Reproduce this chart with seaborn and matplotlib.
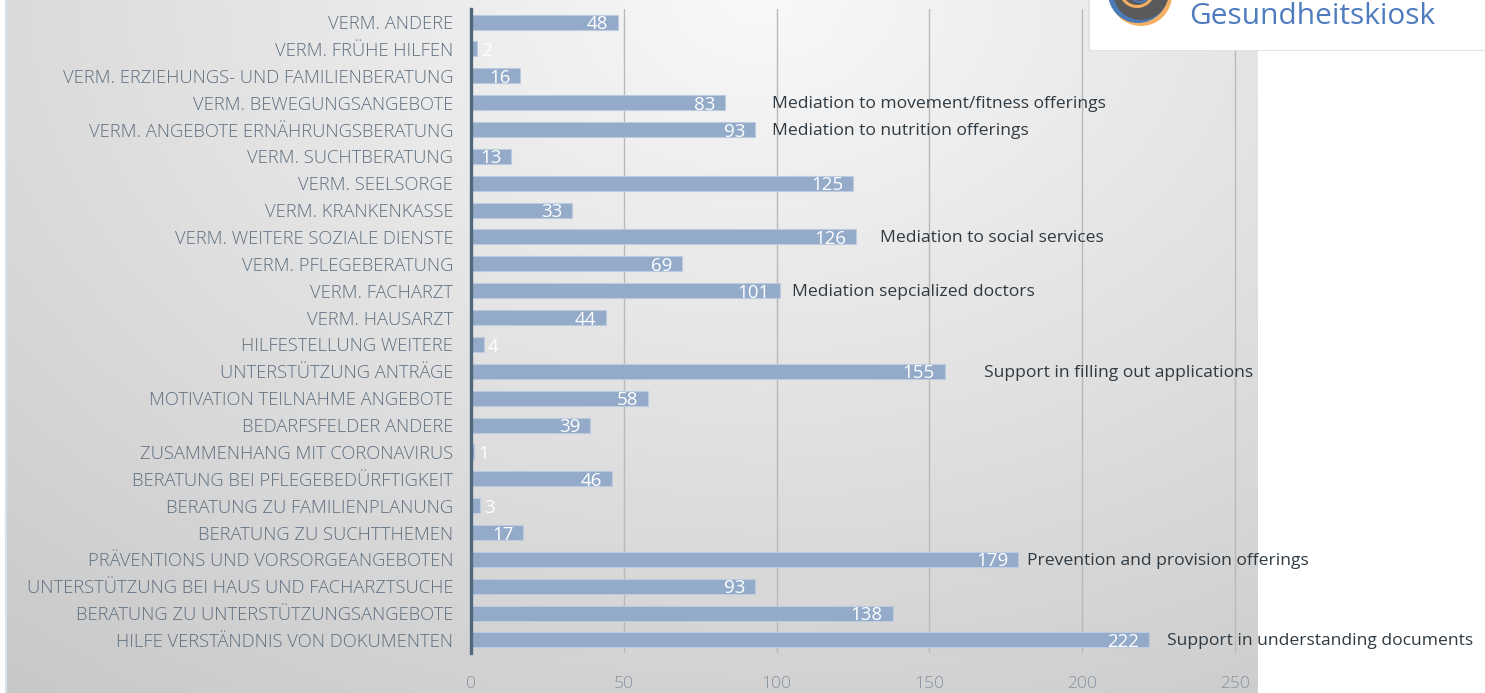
import numpy as np
import pandas as pd
import matplotlib
matplotlib.use("Agg")
import matplotlib.pyplot as plt
import seaborn as sns
from matplotlib.patches import Circle, Rectangle, Wedge

categories = [
    "VERM. ANDERE",
    "VERM. FRÜHE HILFEN",
    "VERM. ERZIEHUNGS- UND FAMILIENBERATUNG",
    "VERM. BEWEGUNGSANGEBOTE",
    "VERM. ANGEBOTE ERNÄHRUNGSBERATUNG",
    "VERM. SUCHTBERATUNG",
    "VERM. SEELSORGE",
    "VERM. KRANKENKASSE",
    "VERM. WEITERE SOZIALE DIENSTE",
    "VERM. PFLEGEBERATUNG",
    "VERM. FACHARZT",
    "VERM. HAUSARZT",
    "HILFESTELLUNG WEITERE",
    "UNTERSTÜTZUNG ANTRÄGE",
    "MOTIVATION TEILNAHME ANGEBOTE",
    "BEDARFSFELDER ANDERE",
    "ZUSAMMENHANG MIT CORONAVIRUS",
    "BERATUNG BEI PFLEGEBEDÜRFTIGKEIT",
    "BERATUNG ZU FAMILIENPLANUNG",
    "BERATUNG ZU SUCHTTHEMEN",
    "PRÄVENTIONS UND VORSORGEANGEBOTEN",
    "UNTERSTÜTZUNG BEI HAUS UND FACHARZTSUCHE",
    "BERATUNG ZU UNTERSTÜTZUNGSANGEBOTE",
    "HILFE VERSTÄNDNIS VON DOKUMENTEN",
]
values = [48, 2, 16, 83, 93, 13, 125, 33, 126, 69, 101, 44, 4, 155, 58, 39, 1, 46, 3, 17, 179, 93, 138, 222]

annot_categories = [
    "VERM. BEWEGUNGSANGEBOTE",
    "VERM. ANGEBOTE ERNÄHRUNGSBERATUNG",
    "VERM. WEITERE SOZIALE DIENSTE",
    "VERM. FACHARZT",
    "UNTERSTÜTZUNG ANTRÄGE",
    "PRÄVENTIONS UND VORSORGEANGEBOTEN",
    "HILFE VERSTÄNDNIS VON DOKUMENTEN",
]
annot_texts = [
    "Mediation to movement/fitness offerings",
    "Mediation to nutrition offerings",
    "Mediation to social services",
    "Mediation sepcialized doctors",
    "Support in filling out applications",
    "Prevention and provision offerings",
    "Support in understanding documents",
]
annot_x = [98.5, 98.5, 134.0, 105.0, 168.0, 182.0, 228.0]

xticks = [0, 50, 100, 150, 200, 250]

df = pd.DataFrame({"category": categories, "value": values})

sns.set_theme(style="white")
plt.rcParams["font.family"] = ["Open Sans", "DejaVu Sans"]

W, H = 1485, 693
fig = plt.figure(figsize=(W / 100, H / 100), dpi=100)
fig.patch.set_facecolor("white")

# background panel with gradient
bg = fig.add_axes([0, 0, 1, 1], zorder=0)
bg.set_xlim(0, W)
bg.set_ylim(H, 0)
bg.axis("off")
px0, px1 = 6, 1258
xx, yy = np.meshgrid(np.linspace(px0, px1, 300), np.linspace(0, H, 200))
dist = np.sqrt(((xx - 760) / 950) ** 2 + (yy / H) ** 2)
v = np.clip(0.975 - 0.15 * dist, 0, 1)
img = np.dstack([v, v, v])
bg.imshow(img, extent=[px0, px1, H, 0], aspect="auto", interpolation="bicubic", zorder=0)
bg.plot([6, 6], [0, H], color="#d6e3ec", lw=1.5, zorder=1)

# logo overlay (above chart)
lg = fig.add_axes([0, 0, 1, 1], zorder=4)
lg.set_xlim(0, W)
lg.set_ylim(H, 0)
lg.axis("off")
lg.patch.set_alpha(0)
lg.add_patch(Rectangle((1088, -2), 400, 53, facecolor="#e2e2e2", edgecolor="none", zorder=2))
lg.add_patch(Rectangle((1090, -2), 400, 52, facecolor="white", edgecolor="none", zorder=3))
lg.add_patch(Circle((1141, -5), 31, facecolor="#f4b063", edgecolor="none", zorder=4))
lg.add_patch(Circle((1138, -7), 30, facecolor="#4a7ab8", edgecolor="none", zorder=4))
lg.add_patch(Circle((1141, -8), 28, facecolor="#5a5a5c", edgecolor="none", zorder=5))
lg.add_patch(Wedge((1137, -10), 18, 10, 190, width=3, facecolor="#f4b063", edgecolor="none", zorder=6))
lg.add_patch(Wedge((1140, -8), 11, 0, 190, width=2, facecolor="#4a7ab8", edgecolor="none", zorder=6))
lg.text(1189, 16, "Gesundheitskiosk", color="#4f7cbf", fontsize=21.5,
        family=["Open Sans", "DejaVu Sans"], va="center", ha="left", zorder=6)

# main axes
x0_px, unit = 471.3, 3.053
xmax = 258
top_px, bot_px = 8.6, 653.4
ax = fig.add_axes([x0_px / W, 1 - bot_px / H, xmax * unit / W, (bot_px - top_px) / H], zorder=2)
ax.patch.set_alpha(0)

sns.barplot(data=df, x="value", y="category", orient="h", color="#94aac9",
            saturation=1, width=0.56, edgecolor="#bccbe0", linewidth=0.8, ax=ax, zorder=3)

ax.set_xlim(0, xmax)
ax.set_ylim(len(categories) - 0.5, -0.5)
ax.set_xticks(xticks)
ax.set_xticklabels([str(t) for t in xticks])
for t in xticks[1:]:
    ax.axvline(t, color="#b9b9b9", lw=1.0, zorder=1)
for s in ["top", "right", "bottom"]:
    ax.spines[s].set_visible(False)
ax.spines["left"].set_color("#52677a")
ax.spines["left"].set_linewidth(2.4)
ax.spines["left"].set_zorder(5)
ax.set_xlabel("")
ax.set_ylabel("")
ax.tick_params(axis="y", length=0, pad=13, labelsize=13.2, labelcolor="#5f6f80")
ax.tick_params(axis="x", length=0, pad=16, labelsize=12.5, labelcolor="#8592a0")
for lab in ax.get_yticklabels():
    lab.set_fontweight("light")
for lab in ax.get_xticklabels():
    lab.set_fontweight("light")

# value labels
for i, val in enumerate(values):
    if val >= 10:
        ax.annotate(str(val), (val, i), xytext=(-7, -1.5), textcoords="offset points",
                    ha="right", va="center", color="white", fontsize=13.5, zorder=6)
    else:
        ax.annotate(str(val), (val, i), xytext=(3, -1.5), textcoords="offset points",
                    ha="left", va="center", color="white", fontsize=13.5, zorder=6)

# English annotations
for cat, txt, xpos in zip(annot_categories, annot_texts, annot_x):
    yi = categories.index(cat)
    ax.text(xpos, yi + 0.05, txt, ha="left", va="center", color="#2f3a42",
            fontsize=12.6, clip_on=False, zorder=6)

fig.savefig("out.png", dpi=100)
